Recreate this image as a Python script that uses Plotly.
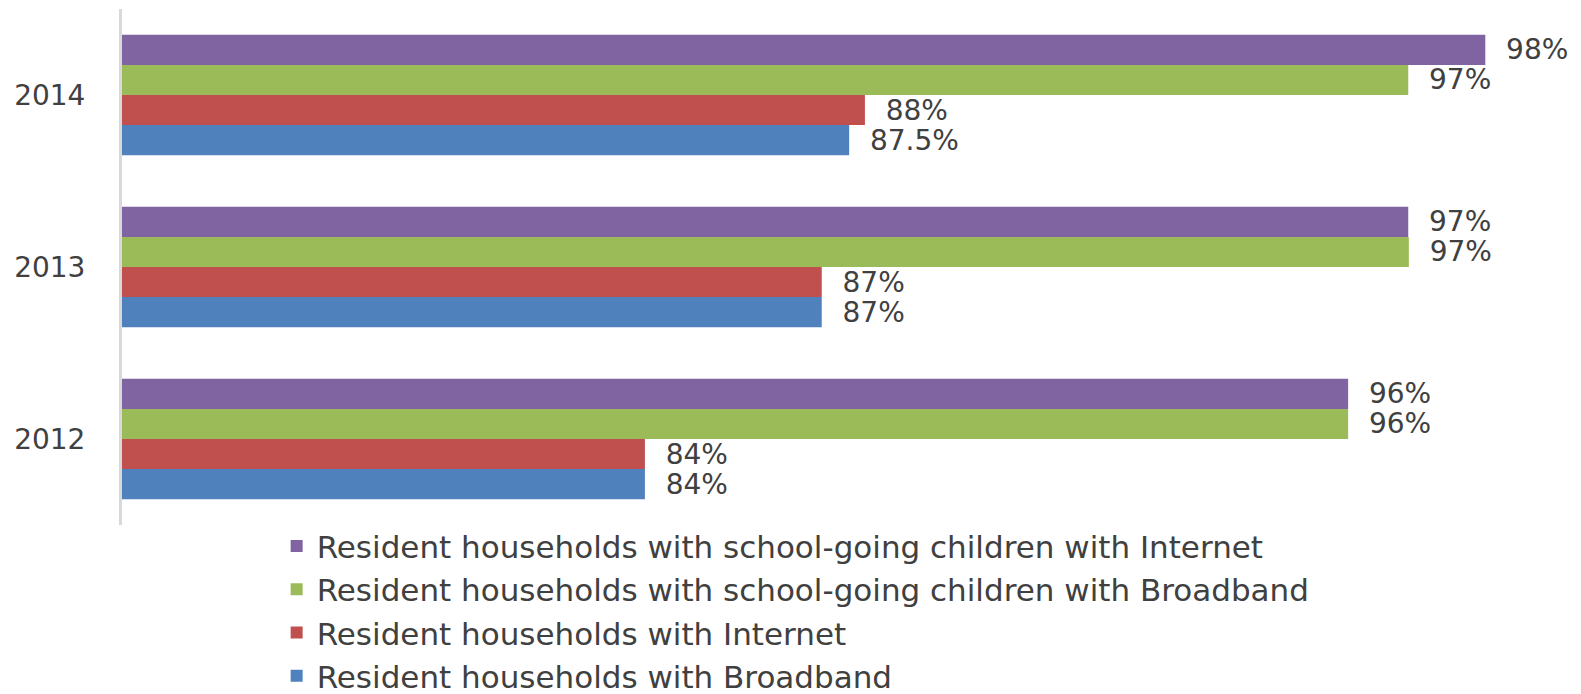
import plotly.graph_objects as go

years = ["2012", "2013", "2014"]
series_names = [
    "Resident households with Broadband",
    "Resident households with Internet",
    "Resident households with school-going children with Broadband",
    "Resident households with school-going children with Internet",
]
broadband = [83.96, 86.99, 87.46]
internet = [83.96, 86.99, 87.73]
kids_broadband = [96.01, 97.05, 97.04]
kids_internet = [96.01, 97.04, 98.36]
broadband_lbl = ["84%", "87%", "87.5%"]
internet_lbl = ["84%", "87%", "88%"]
kids_broadband_lbl = ["96%", "97%", "97%"]
kids_internet_lbl = ["96%", "97%", "98%"]
colors = ["#4F81BD", "#C0504D", "#9BBB59", "#8064A2"]

values = [broadband, internet, kids_broadband, kids_internet]
labels = [broadband_lbl, internet_lbl, kids_broadband_lbl, kids_internet_lbl]

FONT = "DejaVu Sans"
TXT = "#404040"
pad = "\u00a0\u00a0"

fig = go.Figure()
for name, vals, lbls, col in zip(series_names, values, labels, colors):
    fig.add_trace(go.Bar(
        y=years, x=vals, name=name, orientation="h",
        marker=dict(color=col, line=dict(width=0)),
        text=[pad + t for t in lbls], textposition="outside",
        constraintext="none",
        textfont=dict(family=FONT, size=28, color=TXT),
        cliponaxis=False,
    ))

# the page body has an 8px margin, so the figure is 8px smaller than the window
fig.update_layout(
    width=1573, height=686,
    margin=dict(l=114, r=0, t=1, b=169, autoexpand=False),
    paper_bgcolor="white", plot_bgcolor="white",
    barmode="group", bargap=0.30, bargroupgap=0,
    font=dict(family=FONT, size=28, color=TXT),
    showlegend=True,
    legend=dict(
        orientation="v", traceorder="reversed",
        x=0.106, xanchor="left", y=0.011, yanchor="top",
        font=dict(family=FONT, size=31, color=TXT),
        bgcolor="rgba(0,0,0,0)",
    ),
)
fig.update_xaxes(range=[75, 100], showgrid=False, zeroline=False,
                 showticklabels=False, showline=False)
fig.update_yaxes(showgrid=False, zeroline=False, showline=True,
                 linecolor="#D9D9D9", linewidth=3, automargin=False,
                 ticks="", ticklabelstandoff=28,
                 tickfont=dict(family=FONT, size=28, color=TXT))

fig.write_html("out.html")
